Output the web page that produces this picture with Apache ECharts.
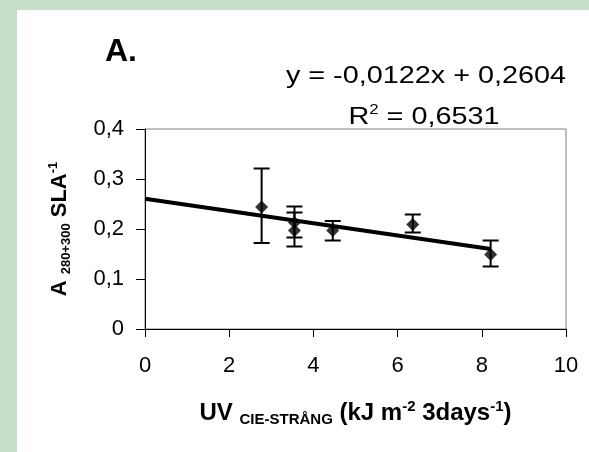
<!DOCTYPE html>
<html>
<head>
<meta charset="utf-8">
<script src="https://cdn.jsdelivr.net/npm/echarts@6/dist/echarts.min.js"></script>
<style>
  html, body { margin: 0; padding: 0; background: #c6e0ca; }
  #panel { position: absolute; left: 17px; top: 10px; right: 0; bottom: 0; background: #fff; }
  #main { position: absolute; left: 0; top: 0; width: 589px; height: 452px; }
</style>
</head>
<body>
<div id="panel"></div>
<div id="main"></div>
<script type="text/javascript">
// 数据
var uvDose = [2.77, 3.55, 3.55, 4.46, 6.36, 8.21]
var absorb = [0.244, 0.213, 0.197, 0.197, 0.209, 0.149]
var errHigh = [0.321, 0.245, 0.233, 0.216, 0.229, 0.177]
var errLow = [0.172, 0.183, 0.165, 0.177, 0.193, 0.125]
// 趋势线 y = -0,0122x + 0,2604 的两个端点
var trendX = [0, 8.21]
var trendY = [0.2604, 0.1602]
var xTicks = [0, 2, 4, 6, 8, 10]
var yTicks = [0, 0.1, 0.2, 0.3, 0.4]

var FONT = '"Liberation Sans", Arial, sans-serif'

var points = uvDose.map(function (x, i) { return [x, absorb[i]] })
var bars = uvDose.map(function (x, i) { return [x, errHigh[i], errLow[i]] })
var trend = trendX.map(function (x, i) { return [x, trendY[i]] })

var chart = echarts.init(document.getElementById('main'), null, { renderer: 'canvas' })

var option = {
    animation: false,
    backgroundColor: 'transparent',
    grid: {
        left: 145, right: 23, top: 129, bottom: 123,
        show: true, borderColor: '#808080', borderWidth: 1
    },
    graphic: [
        {
            type: 'text', left: 105, top: 36,
            style: { text: 'A.', font: 'bold 32px ' + FONT, fill: '#000' }
        },
        {
            type: 'text', x: 426, y: 76, scaleX: 1.2,
            style: {
                text: 'y = -0,0122x + 0,2604',
                font: '24px ' + FONT, fill: '#000',
                align: 'center', verticalAlign: 'middle'
            }
        },
        {
            type: 'text', x: 424, y: 117, scaleX: 1.2,
            style: {
                text: '{m|R}{p|2}{m| = 0,6531}',
                align: 'center', verticalAlign: 'middle',
                rich: {
                    m: { fontSize: 24, fontFamily: FONT, color: '#000', lineHeight: 28 },
                    p: { fontSize: 14, fontFamily: FONT, color: '#000', lineHeight: 12, verticalAlign: 'top' }
                }
            }
        }
    ],
    xAxis: {
        type: 'value',
        min: xTicks[0], max: xTicks[xTicks.length - 1], interval: 2,
        splitLine: { show: false },
        axisLine: { show: true, onZero: false, lineStyle: { color: '#000', width: 1 } },
        axisTick: { show: true, length: 8, lineStyle: { color: '#000' } },
        axisLabel: { fontSize: 22, fontFamily: FONT, color: '#000', margin: 26 },
        name: '{m|UV }{s|CIE-STRÅNG}{m| (kJ m}{p|-2}{m| 3days}{p|-1}{m|)}',
        nameLocation: 'middle',
        nameGap: 70,
        nameTextStyle: {
            rich: {
                m: { fontSize: 24, fontWeight: 'bold', fontFamily: FONT, color: '#000', lineHeight: 28 },
                s: { fontSize: 15, fontWeight: 'bold', fontFamily: FONT, color: '#000', lineHeight: 14, verticalAlign: 'bottom' },
                p: { fontSize: 15, fontWeight: 'bold', fontFamily: FONT, color: '#000', lineHeight: 14, verticalAlign: 'top' }
            }
        }
    },
    yAxis: {
        type: 'value',
        min: yTicks[0], max: yTicks[yTicks.length - 1], interval: 0.1,
        splitLine: { show: false },
        axisLine: { show: true, onZero: false, lineStyle: { color: '#000', width: 1 } },
        axisTick: { show: true, length: 9, lineStyle: { color: '#000' } },
        axisLabel: {
            fontSize: 22, fontFamily: FONT, color: '#000', margin: 21,
            formatter: function (v) { return String(+v.toFixed(1)).replace('.', ',') }
        },
        name: '{m|A }{s|280+300}{m| SLA}{p|-1}',
        nameLocation: 'middle',
        nameRotate: 90,
        nameGap: 72,
        nameTextStyle: {
            rich: {
                m: { fontSize: 22, fontWeight: 'bold', fontFamily: FONT, color: '#000', lineHeight: 26 },
                s: { fontSize: 13, fontWeight: 'bold', fontFamily: FONT, color: '#000', lineHeight: 13, verticalAlign: 'bottom' },
                p: { fontSize: 13, fontWeight: 'bold', fontFamily: FONT, color: '#000', lineHeight: 13, verticalAlign: 'top' }
            }
        }
    },
    series: [
        {
            name: 'trend',
            type: 'line',
            data: trend,
            symbol: 'none',
            lineStyle: { color: '#000', width: 4 },
            z: 2
        },
        {
            name: 'error',
            type: 'custom',
            data: bars,
            encode: { x: 0, y: [1, 2] },
            renderItem: function (params, api) {
                var top = api.coord([api.value(0), api.value(1)])
                var bot = api.coord([api.value(0), api.value(2)])
                var half = 8
                var st = { stroke: '#000', lineWidth: 2 }
                return {
                    type: 'group',
                    children: [
                        { type: 'line', shape: { x1: top[0], y1: top[1], x2: bot[0], y2: bot[1] }, style: st },
                        { type: 'line', shape: { x1: top[0] - half, y1: top[1], x2: top[0] + half, y2: top[1] }, style: st },
                        { type: 'line', shape: { x1: bot[0] - half, y1: bot[1], x2: bot[0] + half, y2: bot[1] }, style: st }
                    ]
                }
            },
            z: 3
        },
        {
            name: 'points',
            type: 'scatter',
            data: points,
            symbol: 'diamond',
            symbolSize: [13, 13],
            itemStyle: { color: '#000' },
            z: 4
        }
    ]
}

chart.setOption(option)
window.addEventListener('resize', () => {
    chart.resize()
})
</script>
</body>
</html>
